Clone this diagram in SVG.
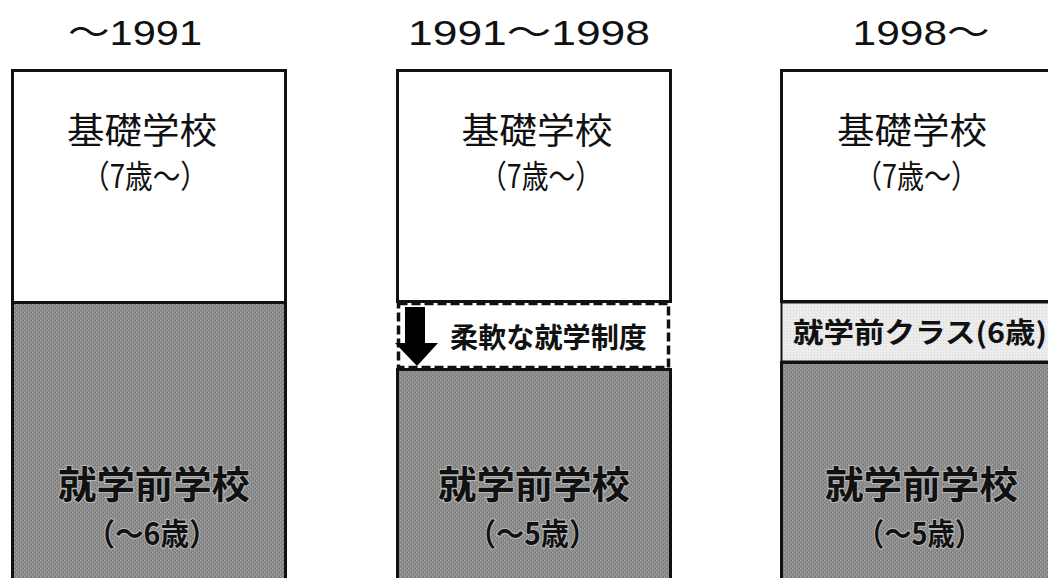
<svg xmlns="http://www.w3.org/2000/svg" width="1048" height="578" viewBox="0 0 1048 578">
<style>
.hdr{font-family:"Liberation Sans","Noto Sans CJK JP",sans-serif;font-size:35px;fill:#111;text-anchor:middle}
.top{font-family:"Noto Sans CJK JP",sans-serif;font-size:36px;fill:#111;text-anchor:middle}
.top2{font-family:"Noto Sans CJK JP",sans-serif;font-size:32px;fill:#111;text-anchor:middle}
.bot{font-family:"Noto Sans CJK JP",sans-serif;font-size:38px;font-weight:bold;fill:#111;text-anchor:middle;stroke:#b8b8b8;stroke-width:2;paint-order:stroke}
.bot2{font-family:"Noto Sans CJK JP",sans-serif;font-size:31px;font-weight:bold;fill:#111;text-anchor:middle;stroke:#b8b8b8;stroke-width:2;paint-order:stroke}
.band{font-family:"Noto Sans CJK JP",sans-serif;font-size:28px;font-weight:bold;fill:#111}
.white{fill:#fff;stroke:#111;stroke-width:3}
.gray{fill:url(#dither);stroke:#111;stroke-width:3}
</style>
<defs>
<pattern id="dither" width="4" height="4" patternUnits="userSpaceOnUse">
<rect width="4" height="4" fill="#8c8c8c"/>
<rect x="0" y="0" width="1" height="1" fill="#a6a6a6"/>
<rect x="2" y="2" width="1" height="1" fill="#a6a6a6"/>
<rect x="1" y="2" width="1" height="1" fill="#727272"/>
<rect x="3" y="0" width="1" height="1" fill="#727272"/>
</pattern>
<pattern id="light" width="3" height="3" patternUnits="userSpaceOnUse">
<rect width="3" height="3" fill="#ececec"/>
<rect x="1" y="1" width="1" height="1" fill="#d6d6d6"/>
</pattern>
</defs>
<rect width="1048" height="578" fill="#fff"/>

<g id="headers">
<text class="hdr" x="135" y="45" textLength="134" lengthAdjust="spacingAndGlyphs">〜1991</text>
<text class="hdr" x="529" y="45" textLength="242" lengthAdjust="spacingAndGlyphs">1991〜1998</text>
<text class="hdr" x="921" y="45" textLength="137" lengthAdjust="spacingAndGlyphs">1998〜</text>
</g>

<g id="col1">
<rect class="white" x="12.5" y="70.5" width="273" height="232"/>
<rect class="gray" x="12.5" y="302.5" width="273" height="290"/>
<text class="top" x="142" y="144" textLength="150" lengthAdjust="spacingAndGlyphs">基礎学校</text>
<text class="top2" x="145" y="188" textLength="126" lengthAdjust="spacingAndGlyphs">（7歳〜）</text>
<text class="bot" x="154" y="498" textLength="192" lengthAdjust="spacingAndGlyphs">就学前学校</text>
<text class="bot2" x="152" y="545" textLength="131" lengthAdjust="spacingAndGlyphs">（〜6歳）</text>
</g>

<g id="col2">
<rect class="white" x="397.5" y="70.5" width="273" height="231"/>
<rect x="398.5" y="303.5" width="270" height="64" fill="#fff" stroke="#111" stroke-width="3.5" stroke-dasharray="9 4"/>
<rect class="gray" x="397.5" y="369.5" width="273" height="223"/>
<text class="top" x="537" y="144" textLength="151" lengthAdjust="spacingAndGlyphs">基礎学校</text>
<text class="top2" x="541" y="188" textLength="122" lengthAdjust="spacingAndGlyphs">（7歳〜）</text>
<polygon points="405,307 425,307 425,343 438,343 417,366 395,343 405,343" fill="#000"/>
<text class="band" x="450" y="348" textLength="197" lengthAdjust="spacingAndGlyphs">柔軟な就学制度</text>
<text class="bot" x="534" y="498" textLength="192" lengthAdjust="spacingAndGlyphs">就学前学校</text>
<text class="bot2" x="532.5" y="545" textLength="129" lengthAdjust="spacingAndGlyphs">（〜5歳）</text>
</g>

<g id="col3">
<rect class="white" x="781.5" y="70.5" width="300" height="231"/>
<rect x="781.5" y="302.5" width="300" height="59" fill="url(#light)" stroke="#111" stroke-width="2"/>
<rect class="gray" x="781.5" y="362.5" width="300" height="230"/>
<text class="band" x="793" y="343" font-size="30" textLength="254" lengthAdjust="spacingAndGlyphs">就学前クラス(6歳)</text>
<text class="top" x="912" y="144" textLength="150" lengthAdjust="spacingAndGlyphs">基礎学校</text>
<text class="top2" x="916.5" y="188" textLength="123" lengthAdjust="spacingAndGlyphs">（7歳〜）</text>
<text class="bot" x="921.5" y="498" textLength="193" lengthAdjust="spacingAndGlyphs">就学前学校</text>
<text class="bot2" x="919.5" y="545" textLength="125" lengthAdjust="spacingAndGlyphs">（〜5歳）</text>
</g>
</svg>
